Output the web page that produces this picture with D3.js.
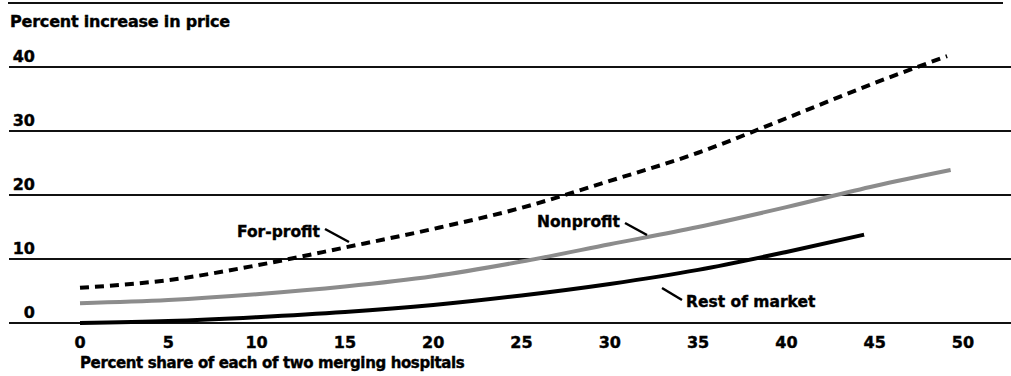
<!DOCTYPE html>
<html>
<head>
<meta charset="utf-8">
<script src="https://cdn.jsdelivr.net/npm/d3@7"></script>
<style>
  body { margin: 0; background: #fff; }
  svg text { font-family: "DejaVu Sans", sans-serif; font-weight: bold; fill: #000; stroke: #000; stroke-width: 0.4px; }
</style>
</head>
<body>
<div id="chart"></div>
<script>
var w = 1011, h = 376;

var yTicks = [0, 10, 20, 30, 40];
var xTicks = [0, 5, 10, 15, 20, 25, 30, 35, 40, 45, 50];

var forProfit = [[0, 5.5], [5, 6.7], [10, 9.0], [15, 11.8], [20, 14.7], [25, 18.0], [30, 22.2],
                 [35, 26.6], [40, 32.0], [45, 37.5], [49.1, 41.7]];
var nonProfit = [[0, 3.1], [5, 3.6], [10, 4.5], [15, 5.7], [20, 7.3], [25, 9.6], [30, 12.3],
                 [35, 15.0], [40, 18.1], [45, 21.4], [49.3, 23.9]];
var restOfMarket = [[0, 0], [5, 0.3], [10, 0.9], [15, 1.7], [20, 2.8], [25, 4.3], [30, 6.1],
                    [35, 8.3], [40, 11.1], [44.4, 13.8]];

var labels = [
  {text: "For-profit", x: 237, y: 237, from: [325, 229], to: [349, 242]},
  {text: "Nonprofit", x: 537, y: 227, from: [625, 223], to: [647, 235]},
  {text: "Rest of market", x: 686, y: 307, from: [662, 288], to: [682, 300]}
];

var xScale = d3.scaleLinear().domain([0, 50]).range([80, 963]);
var yScale = d3.scaleLinear().domain([0, 40]).range([323, 67]);

var svg = d3.select("#chart").append("svg")
  .attr("width", w)
  .attr("height", h);

// top rule
svg.append("line")
  .attr("x1", 8).attr("x2", 1003)
  .attr("y1", 3).attr("y2", 3)
  .attr("stroke", "#111").attr("stroke-width", 2);

svg.append("text")
  .attr("x", 10).attr("y", 27)
  .style("font-size", "16px")
  .style("letter-spacing", "-0.2px")
  .text("Percent increase in price");

// gridlines + y labels
svg.selectAll(".grid").data(yTicks).enter().append("line")
  .attr("x1", 9).attr("x2", w)
  .attr("y1", function(d) { return yScale(d); })
  .attr("y2", function(d) { return yScale(d); })
  .attr("stroke", "#111").attr("stroke-width", 2);

svg.selectAll(".ylab").data(yTicks).enter().append("text")
  .attr("x", 35)
  .attr("y", function(d) { return yScale(d) - 5; })
  .attr("text-anchor", "end")
  .style("font-size", "16px")
  .text(function(d) { return d; });

// x labels
svg.selectAll(".xlab").data(xTicks).enter().append("text")
  .attr("x", function(d) { return xScale(d); })
  .attr("y", 348)
  .attr("text-anchor", "middle")
  .style("font-size", "16px")
  .text(function(d) { return d; });

svg.append("text")
  .attr("x", 80).attr("y", 368)
  .style("font-size", "15px")
  .style("letter-spacing", "-0.38px")
  .text("Percent share of each of two merging hospitals");

var line = d3.line()
  .curve(d3.curveMonotoneX)
  .x(function(d) { return xScale(d[0]); })
  .y(function(d) { return yScale(d[1]); });

svg.append("path")
  .datum(restOfMarket)
  .attr("fill", "none")
  .attr("stroke", "#000")
  .attr("stroke-width", 4)
  .attr("d", line);

svg.append("path")
  .datum(nonProfit)
  .attr("fill", "none")
  .attr("stroke", "#8c8c8c")
  .attr("stroke-width", 4)
  .attr("d", line);

svg.append("path")
  .datum(forProfit)
  .attr("fill", "none")
  .attr("stroke", "#000")
  .attr("stroke-width", 4)
  .attr("stroke-dasharray", "9,6")
  .attr("d", line);

// series labels with leader lines
svg.selectAll(".lead").data(labels).enter().append("line")
  .attr("x1", function(d) { return d.from[0]; })
  .attr("y1", function(d) { return d.from[1]; })
  .attr("x2", function(d) { return d.to[0]; })
  .attr("y2", function(d) { return d.to[1]; })
  .attr("stroke", "#000").attr("stroke-width", 2.5);

svg.selectAll(".slab").data(labels).enter().append("text")
  .attr("x", function(d) { return d.x; })
  .attr("y", function(d) { return d.y; })
  .style("font-size", "15.5px")
  .text(function(d) { return d.text; });
</script>
</body>
</html>
